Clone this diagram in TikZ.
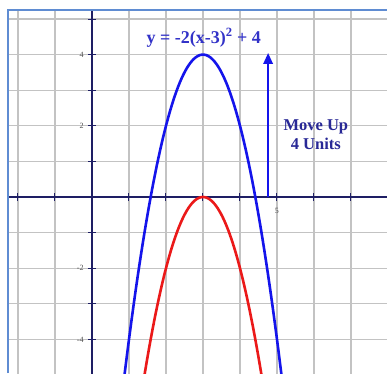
\documentclass[tikz,border=0pt]{standalone}
\usepackage{fontspec}
\setmainfont{Liberation Serif}
\usetikzlibrary{arrows.meta}
\definecolor{gridc}{RGB}{195,195,195}
\definecolor{axisc}{RGB}{30,30,100}
\definecolor{framec}{RGB}{95,140,210}
\definecolor{curveblue}{RGB}{20,20,235}
\definecolor{curvered}{RGB}{235,25,25}
\definecolor{titleblue}{RGB}{50,50,200}
\definecolor{noteblue}{RGB}{40,40,150}
\definecolor{tickc}{RGB}{80,80,80}
\tikzset{
  gridline/.style={gridc, line width=1.2pt},
  axisline/.style={axisc, line width=1.3pt},
  tickmark/.style={axisc, line width=1pt},
  ticklabel/.style={text=tickc, font=\fontsize{8}{9}\selectfont, inner sep=0pt},
  curve/.style={line width=2.6pt, line cap=round},
  title/.style={text=titleblue, font=\fontsize{18}{19}\selectfont\bfseries, inner sep=0pt},
  note/.style={text=noteblue, font=\fontsize{16.5}{18.5}\selectfont\bfseries, inner sep=0pt, align=center},
}
\begin{document}
\begin{tikzpicture}[x=37pt,y=35.6pt]
\useasboundingbox (-2.486,-4.944) rectangle (7.973,5.534);
\fill[white] (-2.486,-4.944) rectangle (7.973,5.534);
\begin{scope}
\clip (-2.27,-4.944) rectangle (7.973,5.253);
% grid
\foreach \i in {-2,...,7} \draw[gridline] (\i,-5) -- (\i,5.3);
\foreach \j in {-4,...,5} \draw[gridline] (-2.3,\j) -- (8,\j);
% axes
\coordinate (xl) at (-2.3,0);
\coordinate (xr) at (8,0);
\coordinate (yb) at (0,-5);
\coordinate (yt) at (0,5.3);
\draw[axisline] (xl) -- (xr);
\draw[axisline] (yb) -- (yt);
\foreach \i in {-2,-1,1,2,3,4,5,6,7} \draw[tickmark] (\i,-0.1) -- (\i,0.1);
\foreach \j in {-4,...,-1,1,2,3,4,5} \draw[tickmark] (-0.1,\j) -- (0.1,\j);
% curves
\draw[curve, curvered] plot[domain=1.35:4.65, samples=80] (\x,{-2*(\x-3)^2});
\draw[curve, curveblue] plot[domain=0.85:5.15, samples=100] (\x,{-2*(\x-3)^2+4});
\end{scope}
% frame
\coordinate (fb) at (-2.27,-4.944);
\coordinate (fc) at (-2.27,5.253);
\coordinate (fr) at (7.973,5.253);
\draw[framec, line width=2pt] (fb) -- (fc) -- (fr);
% tick labels
\node[ticklabel, anchor=east] (l4) at (-0.22,4) {4};
\node[ticklabel, anchor=east] (l2) at (-0.22,2) {2};
\node[ticklabel, anchor=east] (lm2) at (-0.22,-2) {-2};
\node[ticklabel, anchor=east] (lm4) at (-0.22,-4) {-4};
\node[ticklabel] (l5) at (5,-0.4) {5};
% arrow
\coordinate (a0) at (4.76,0);
\coordinate (a1) at (4.76,4.05);
\draw[curveblue, line width=2.6pt, -{Triangle[length=11pt,width=9pt]}] (a0) -- (a1);
% texts
\node[title] (eq) at (3.02,4.47) {y = -2(x-3)\textsuperscript{2} + 4};
\node[note] (mv) at (6.05,1.75) {Move Up\\4 Units};
\end{tikzpicture}
\end{document}
